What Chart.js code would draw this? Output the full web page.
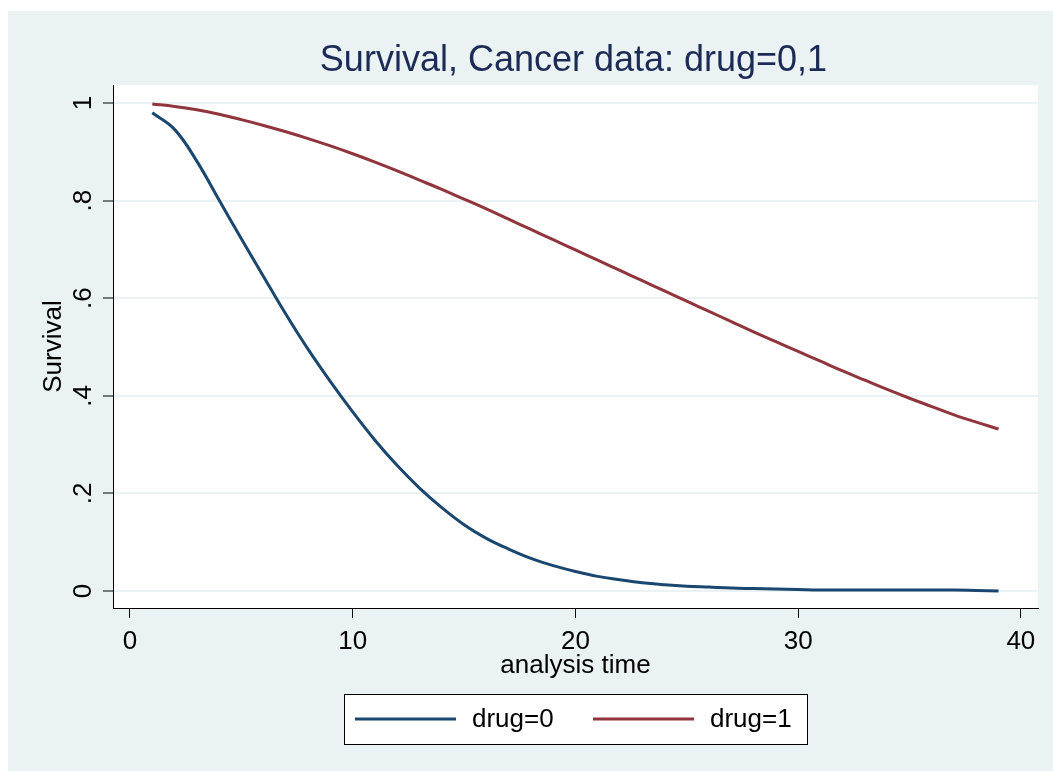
<!DOCTYPE html>
<html>
<head>
<meta charset="utf-8">
<script src="https://cdn.jsdelivr.net/npm/chart.js@4/dist/chart.umd.min.js"></script>
<style>
  html, body { margin: 0; padding: 0; background: #ffffff; }
  canvas { display: block; }
</style>
</head>
<body>
<canvas id="survival-chart" width="1053" height="771"></canvas>
<script>
// Data
const times = [1, 2, 3, 4, 5, 6, 7, 8, 9, 10, 11, 12, 13, 14, 15, 16, 17, 18, 19, 20,
  21, 22, 23, 24, 25, 26, 27, 28, 29, 30, 31, 32, 33, 34, 35, 36, 37, 38, 39];
const drug0 = [0.980, 0.946, 0.881, 0.801, 0.722, 0.644, 0.567, 0.495, 0.429, 0.367,
  0.309, 0.257, 0.211, 0.171, 0.136, 0.108, 0.086, 0.067, 0.052, 0.040,
  0.030, 0.023, 0.017, 0.013, 0.010, 0.008, 0.006, 0.005, 0.004, 0.003,
  0.002, 0.002, 0.002, 0.002, 0.002, 0.002, 0.002, 0.001, 0.000];
const drug1 = [0.998, 0.993, 0.986, 0.977, 0.966, 0.954, 0.941, 0.927, 0.912, 0.896,
  0.879, 0.861, 0.842, 0.823, 0.803, 0.783, 0.762, 0.741, 0.720, 0.699,
  0.678, 0.657, 0.636, 0.615, 0.594, 0.573, 0.552, 0.531, 0.511, 0.491,
  0.471, 0.451, 0.432, 0.413, 0.395, 0.378, 0.361, 0.346, 0.332];
const seriesLabels = ['drug=0', 'drug=1'];
const xTicks = [0, 10, 20, 30, 40];
const yTicks = [0, 0.2, 0.4, 0.6, 0.8, 1];
const yTickLabels = ['0', '.2', '.4', '.6', '.8', '1'];
const titleText = 'Survival, Cancer data: drug=0,1';
const xTitle = 'analysis time';
const yTitle = 'Survival';

// Stata s2color look
const FONT = "'Liberation Sans', Arial, sans-serif";
const BG = '#eaf2f3';
const NAVY = '#1a476f';
const MAROON = '#90353b';

const stataFrame = {
  id: 'stataFrame',
  beforeDraw(chart) {
    const { ctx, chartArea: a } = chart;
    ctx.save();
    ctx.fillStyle = '#ffffff';
    ctx.fillRect(0, 0, chart.width, chart.height);
    ctx.fillStyle = BG;
    ctx.fillRect(8, 11, chart.width - 8, chart.height - 11);
    ctx.fillStyle = '#ffffff';
    ctx.fillRect(a.left, a.top, a.right - a.left, a.bottom - a.top);
    ctx.restore();
  },
  afterDraw(chart) {
    const { ctx, chartArea: a } = chart;
    const yScale = chart.scales.y;
    ctx.save();

    // title
    ctx.fillStyle = '#1c2b55';
    ctx.font = `36px ${FONT}`;
    ctx.textAlign = 'center';
    ctx.textBaseline = 'alphabetic';
    ctx.fillText(titleText, (a.left + a.right) / 2 - 2, 71);

    // y tick labels, rotated like Stata
    ctx.fillStyle = '#000000';
    ctx.font = `26px ${FONT}`;
    yTicks.forEach((v, i) => {
      const py = yScale.getPixelForValue(v);
      ctx.save();
      ctx.translate(91, py);
      ctx.rotate(-Math.PI / 2);
      ctx.textAlign = 'center';
      ctx.fillText(yTickLabels[i], 0, 0);
      ctx.restore();
    });

    // y axis title
    ctx.save();
    ctx.translate(61, (a.top + a.bottom) / 2);
    ctx.rotate(-Math.PI / 2);
    ctx.textAlign = 'center';
    ctx.fillText(yTitle, 0, 0);
    ctx.restore();

    // x axis title
    ctx.textAlign = 'center';
    ctx.fillText(xTitle, (a.left + a.right) / 2, 673);

    // legend box
    const box = { x: 344, y: 694, w: 463, h: 50 };
    ctx.fillStyle = '#ffffff';
    ctx.fillRect(box.x, box.y, box.w, box.h);
    ctx.strokeStyle = '#000000';
    ctx.lineWidth = 1;
    ctx.strokeRect(box.x + 0.5, box.y + 0.5, box.w, box.h);
    const midY = box.y + box.h / 2;
    const starts = [355, 593];
    chart.data.datasets.forEach((ds, i) => {
      ctx.strokeStyle = ds.borderColor;
      ctx.lineWidth = 3;
      ctx.beginPath();
      ctx.moveTo(starts[i], midY);
      ctx.lineTo(starts[i] + 101, midY);
      ctx.stroke();
      ctx.fillStyle = '#000000';
      ctx.textAlign = 'left';
      ctx.textBaseline = 'middle';
      ctx.fillText(ds.label, starts[i] + 117, midY + 1);
    });

    ctx.restore();
  }
};

const ctx = document.getElementById('survival-chart').getContext('2d');
new Chart(ctx, {
  type: 'line',
  data: {
    datasets: [
      {
        label: seriesLabels[0],
        data: times.map((t, i) => ({ x: t, y: drug0[i] })),
        borderColor: NAVY,
        borderWidth: 3,
        pointRadius: 0,
        fill: false,
        tension: 0.4
      },
      {
        label: seriesLabels[1],
        data: times.map((t, i) => ({ x: t, y: drug1[i] })),
        borderColor: MAROON,
        borderWidth: 3,
        pointRadius: 0,
        fill: false,
        tension: 0.4
      }
    ]
  },
  options: {
    responsive: false,
    animation: false,
    layout: { padding: { left: 0, top: 85, right: 15, bottom: 113 } },
    plugins: {
      legend: { display: false },
      title: { display: false },
      tooltip: { enabled: false }
    },
    scales: {
      x: {
        type: 'linear',
        min: -0.763,
        max: 40.77,
        afterBuildTicks: (scale) => { scale.ticks = xTicks.map(v => ({ value: v })); },
        afterFit: (scale) => { scale.height = 50; },
        grid: {
          drawOnChartArea: false,
          drawTicks: true,
          tickLength: 10,
          tickColor: '#000000',
          tickWidth: 1
        },
        border: { display: true, color: '#000000', width: 1 },
        ticks: {
          color: '#000000',
          font: { family: FONT, size: 26 },
          padding: 8,
          maxRotation: 0,
          autoSkip: false
        }
      },
      y: {
        type: 'linear',
        min: -0.0348,
        max: 1.0369,
        afterBuildTicks: (scale) => { scale.ticks = yTicks.map(v => ({ value: v })); },
        afterFit: (scale) => { scale.width = 113; },
        grid: {
          color: BG,
          lineWidth: 2,
          drawTicks: true,
          tickLength: 10,
          tickColor: '#000000',
          tickWidth: 1
        },
        border: { display: true, color: '#000000', width: 1 },
        ticks: { display: false }
      }
    }
  },
  plugins: [stataFrame]
});
</script>
</body>
</html>
